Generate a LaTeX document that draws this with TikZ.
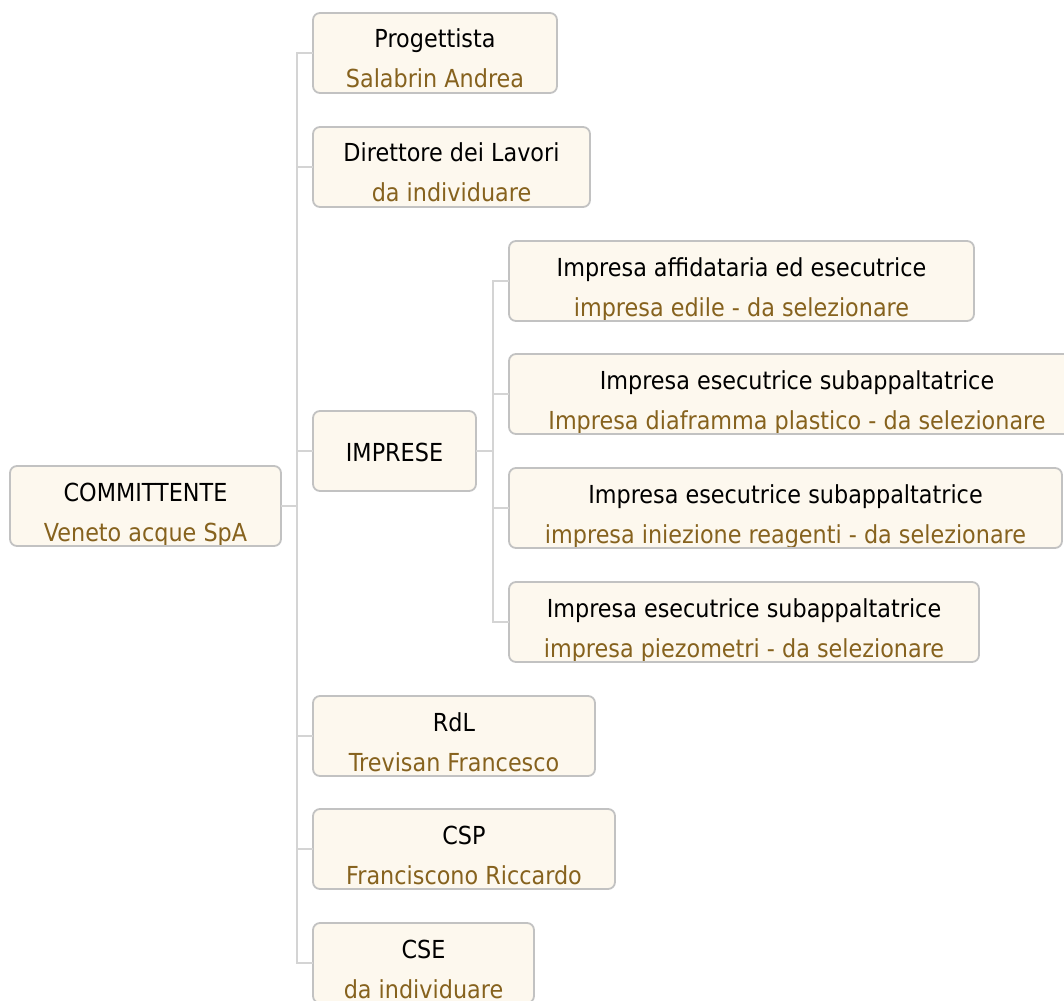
\documentclass[tikz,border=0pt]{standalone}
\usepackage{fontspec}
\setmainfont[FakeStretch=0.9]{DejaVu Sans}
\usetikzlibrary{fit}
\definecolor{boxfill}{HTML}{FDF8EE}
\definecolor{boxline}{HTML}{C2C2C2}
\definecolor{connline}{HTML}{D4D4D4}
\definecolor{subcol}{HTML}{86621E}
\tikzset{
  boxbg/.style={fill=boxfill, draw=none, rounded corners=7pt, inner sep=0pt, outer sep=0pt},
  boxrim/.style={draw=boxline, line width=1.8pt, rounded corners=7pt},
  conn/.style={draw=connline, line width=1.8pt},
  titletext/.style={anchor=base, inner sep=0pt, font=\fontsize{24.8}{28}\selectfont, text=black},
  subtext/.style={titletext, text=subcol},
}
\newcommand\orgbox[7]{%
  \node[boxbg, fit={(#2,#3) (#4,#5)}] (#1) {};
  \begin{scope}
    \clip[rounded corners=7pt] (#2,#3) rectangle (#4,#5);
    \node[titletext] (#1-t) at ([yshift=-35pt]#1.north) {#6};
    \node[subtext] (#1-s) at ([yshift=-75pt]#1.north) {#7};
  \end{scope}
  \draw[boxrim] (#2,#3) rectangle (#4,#5);
}
\begin{document}
\begin{tikzpicture}[x=1pt, y=-1pt]
\useasboundingbox (0,0) rectangle (1064,1000);
\fill[white] (0,0) rectangle (1064,1000);
\coordinate (t) at (297,0);
\coordinate (s) at (493,0);
% boxes
\orgbox{com}{10}{466}{281}{546}{COMMITTENTE}{Veneto acque SpA}
\orgbox{prog}{313}{13}{557}{93}{Progettista}{Salabrin Andrea}
\orgbox{dir}{313}{127}{590}{207}{Direttore dei Lavori}{da individuare}
\node[boxbg, fit={(313,411) (476,491)}] (imp) {};
\node[titletext] (imp-t) at ([yshift=-50pt]imp.north) {IMPRESE};
\draw[boxrim] (313,411) rectangle (476,491);
\orgbox{aff}{509}{241}{974}{321}{Impresa affidataria ed esecutrice}{impresa edile - da selezionare}
\orgbox{subb}{509}{354}{1085}{434}{Impresa esecutrice subappaltatrice}{Impresa diaframma plastico - da selezionare}
\orgbox{subc}{509}{468}{1062}{548}{Impresa esecutrice subappaltatrice}{impresa iniezione reagenti - da selezionare}
\orgbox{subd}{509}{582}{979}{662}{Impresa esecutrice subappaltatrice}{impresa piezometri - da selezionare}
\orgbox{rdl}{313}{696}{595}{776}{RdL}{Trevisan Francesco}
\orgbox{csp}{313}{809}{615}{889}{CSP}{Franciscono Riccardo}
\orgbox{cse}{313}{923}{534}{1003}{CSE}{da individuare}
% connectors
\begin{scope}[on background layer/.style={}]
\draw[conn] (com.east) -- (com.east -| t);
\draw[conn, line join=miter] (prog.west) -- (prog.west -| t) -- (cse.west -| t) -- (cse.west);
\foreach \n in {dir,imp,rdl,csp} \draw[conn] (\n.west -| t) -- (\n.west);
\draw[conn] (imp.east) -- (imp.east -| s);
\draw[conn, line join=miter] (aff.west) -- (aff.west -| s) -- (subd.west -| s) -- (subd.west);
\foreach \n in {subb,subc} \draw[conn] (\n.west -| s) -- (\n.west);
\end{scope}
\end{tikzpicture}
\end{document}
